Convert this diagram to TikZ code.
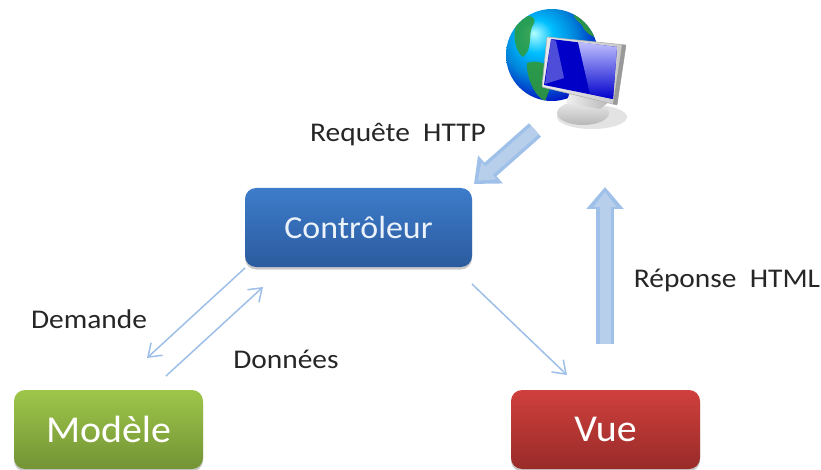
\documentclass[tikz,border=0pt]{standalone}
\usepackage{fontspec}
\setmainfont{Carlito}
\newfontfamily\lblfont[FakeStretch=1.09]{Carlito}
\newfontfamily\ctrlfont[FakeStretch=1.06]{Carlito}
\newfontfamily\boxfont[FakeStretch=1.05]{Carlito}
\usetikzlibrary{arrows.meta,shadows}
\definecolor{blkO}{HTML}{9FC0E8}
\definecolor{blkI}{HTML}{B8CFEC}
\definecolor{thinL}{HTML}{9DBFE8}
\definecolor{ctrlT}{HTML}{3D7CCB}
\definecolor{ctrlB}{HTML}{2B5B9E}
\definecolor{modT}{HTML}{9EC64A}
\definecolor{modB}{HTML}{739335}
\definecolor{vueT}{HTML}{CF403C}
\definecolor{vueB}{HTML}{982B29}
\definecolor{gland}{HTML}{2F9A3A}
\pgfdeclareradialshading{globeshade}{\pgfpoint{-10bp}{12bp}}{
  color(0bp)=(cyan!30!white);
  color(9bp)=(cyan!75!blue);
  color(20bp)=(blue!40!cyan!85!black);
  color(34bp)=(blue!75!black);
  color(50bp)=(blue!55!black);
  color(60bp)=(blue!40!black)}
\tikzset{x=1pt,y=1pt,
 boxbase/.style={rounded corners=11pt,inner sep=0pt,text=white,align=center,
   drop shadow={shadow xshift=0pt,shadow yshift=-2.5pt,opacity=.35,fill=black!60}},
 ctrlbox/.style={boxbase,minimum width=227pt,minimum height=79pt,top color=ctrlT,bottom color=ctrlB,font=\ctrlfont\fontsize{32}{32}\selectfont,text=white!90!ctrlT},
 modelbox/.style={boxbase,minimum width=189pt,minimum height=79pt,top color=modT,bottom color=modB,font=\boxfont\fontsize{38}{38}\selectfont},
 vuebox/.style={boxbase,minimum width=189pt,minimum height=79pt,top color=vueT,bottom color=vueB,font=\boxfont\fontsize{38}{38}\selectfont},
 lbl/.style={text=black!85,font=\lblfont\fontsize{27}{27}\selectfont,inner sep=0pt},
 thin arrow/.style={draw=thinL,line width=1.5pt,-{Straight Barb[length=12pt,width=17pt,line width=1.5pt]}},
 blockO/.style={draw=blkO,line width=18pt,-{Triangle[length=22pt,width=36pt]}},
 blockI/.style={draw=blkI,line width=11pt,shorten >=5pt,-{Triangle[length=15pt,width=22pt]}}
}
\begin{document}
\begin{tikzpicture}
\path[use as bounding box,clip] (0,0) rectangle (821,469);
\fill[white] (0,0) rectangle (821,469);
% boxes
\node[ctrlbox] (ctrl) at (358.5,241.5) {\raisebox{-1pt}{Contrôleur}};
\node[modelbox] (mod) at (108.5,39.5) {\raisebox{-2pt}{Modèle}};
\node[vuebox] (vue) at (605.5,39.5) {\raisebox{-2pt}{Vue}};
% labels
\node[lbl] (lreq) at (398,334) {Requête\ \ HTTP};
\node[lbl] (lrep) at (727,189) {Réponse\ \ HTML};
\node[lbl] (ldem) at (89,150) {Demande};
\node[lbl] (ldon) at (286,110) {Données};
% icon
\shade[shading=globeshade] (552,414) circle (46);
\begin{scope}
\clip (552,414) circle (46);
\fill[gland,opacity=.85] (517,447) .. controls (528,458) and (540,452) .. (532,442) .. controls (528,432) and (533,420) .. (523,412) .. controls (515,418) and (512,434) .. (517,447);
\fill[gland,opacity=.9] (527,406) .. controls (538,410) and (550,405) .. (552,395) .. controls (553,385) and (548,376) .. (545,368) .. controls (535,372) and (526,392) .. (527,406);
\fill[gland,opacity=.9] (573,456) .. controls (585,458) and (597,445) .. (598,430) .. controls (590,434) and (585,436) .. (582,444) .. controls (578,448) and (574,450) .. (573,456);
\end{scope}
\fill[black!20,opacity=.55] (592,352) ellipse (35 and 12);
\shade[top color=black!8,bottom color=black!28] (583,356) ellipse (26 and 12);
\shade[left color=black!6,right color=black!28] (566,366) -- (600,360) -- (610,368) -- (572,382) -- cycle;
\shade[left color=black!8,right color=black!22,draw=black!30,line width=.6pt,rounded corners=1pt] (547,432) -- (626,424) -- (617,364) -- (542,382) -- cycle;
\fill[black!40] (626,424) -- (622,424) -- (613,365) -- (617,364) -- cycle;
\path[left color=blue!80!black,right color=blue!75!black] (551,430) -- (617,422) -- (613,370) -- (544,384) -- cycle;
\shade[top color=blue!25!white,bottom color=blue!80!black] (578,427) -- (617,422) -- (613,370) -- (590,375) -- cycle;
\fill[white,opacity=.3] (551,430) -- (556,428) -- (564,391) -- (545,385) -- cycle;
% connectors
\coordinate (reqA) at (535,339);
\coordinate (reqB) at (474,285);
\coordinate (repA) at (605,125);
\coordinate (repB) at (605,282);
\draw[blockO] (reqA) -- (reqB);
\draw[blockI] (reqA) -- (reqB);
\draw[blockO] (repA) -- (repB);
\draw[blockI] (repA) -- (repB);
\coordinate (demA) at (245,201);
\coordinate (demB) at (147,111);
\coordinate (donA) at (166,93);
\coordinate (donB) at (263,182);
\coordinate (cvA) at (472,185);
\coordinate (cvB) at (567,94);
\draw[thin arrow] (demA) -- (demB);
\draw[thin arrow] (donA) -- (donB);
\draw[thin arrow] (cvA) -- (cvB);
\end{tikzpicture}
\end{document}
